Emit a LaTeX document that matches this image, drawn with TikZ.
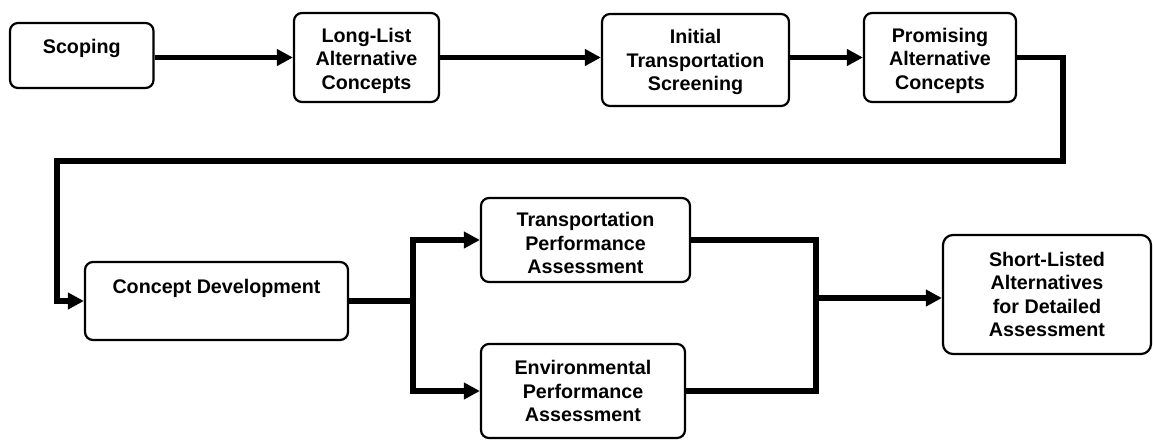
\documentclass[tikz,border=0pt]{standalone}
\usepackage{fontspec}
\setmainfont{Liberation Sans}
\usetikzlibrary{arrows.meta}
\newcommand\toppad[1]{\rule{0pt}{#1}}
\tikzset{
  box/.style={draw=black, line width=2.2pt, rounded corners=8pt, fill=white,
    align=center, inner sep=0pt, font=\fontsize{19.7}{23.5}\selectfont\bfseries},
  conn/.style={draw=black, line width=5.2pt},
  arr/.style={conn, -{Triangle[length=16pt,width=16pt]}},
}
\begin{document}
\begin{tikzpicture}[x=1pt,y=-1pt]
\useasboundingbox (0,0) rectangle (1153,440);
% boxes
\node[box, minimum width=143.5pt, minimum height=65pt, text height=14pt, text depth=19pt] (scoping) at (81.75,55.5) {Scoping};
\node[box, minimum width=145pt, minimum height=89pt] (longlist) at (366.5,57.5) {\toppad{21pt}Long-List\\Alternative\\Concepts};
\node[box, minimum width=187pt, minimum height=92pt] (initial) at (695.5,60) {\toppad{18.5pt}Initial\\Transportation\\Screening};
\node[box, minimum width=152pt, minimum height=89pt] (promising) at (940,57.5) {\toppad{21pt}Promising\\Alternative\\Concepts};
\node[box, minimum width=263pt, minimum height=78pt, text height=14pt, text depth=30pt] (concept) at (216.5,301) {Concept Development};
\node[box, minimum width=209pt, minimum height=84pt] (transp) at (585.5,240) {\toppad{20.5pt}Transportation\\Performance\\Assessment};
\node[box, minimum width=204pt, minimum height=94pt] (env) at (583,391) {Environmental\\Performance\\Assessment};
\node[box, minimum width=208pt, minimum height=119pt, rounded corners=10pt] (short) at (1047,294.5) {Short-Listed\\Alternatives\\for Detailed\\Assessment};
% helper coordinates
\coordinate (r1) at (1063,161);
\coordinate (l1) at (57,161);
\coordinate (fork) at (413,301);
\coordinate (merge) at (816,298);
% connectors
\draw[arr] (scoping.east |- longlist.west) -- (longlist.west);
\draw[arr] (longlist.east) -- (longlist.east -| initial.west);
\draw[arr] (initial.east |- promising.west) -- (promising.west);
\draw[arr] (promising.east) -| (r1) -- (l1) |- (concept.west);
\draw[conn] (concept.east) -- (fork);
\draw[arr] (fork) |- (transp.west);
\draw[arr] (fork) |- (env.west);
\draw[conn] (transp.east) -| (merge);
\draw[conn] (env.east) -| (merge);
\draw[arr] (merge) -- (merge -| short.west);
\end{tikzpicture}
\end{document}
